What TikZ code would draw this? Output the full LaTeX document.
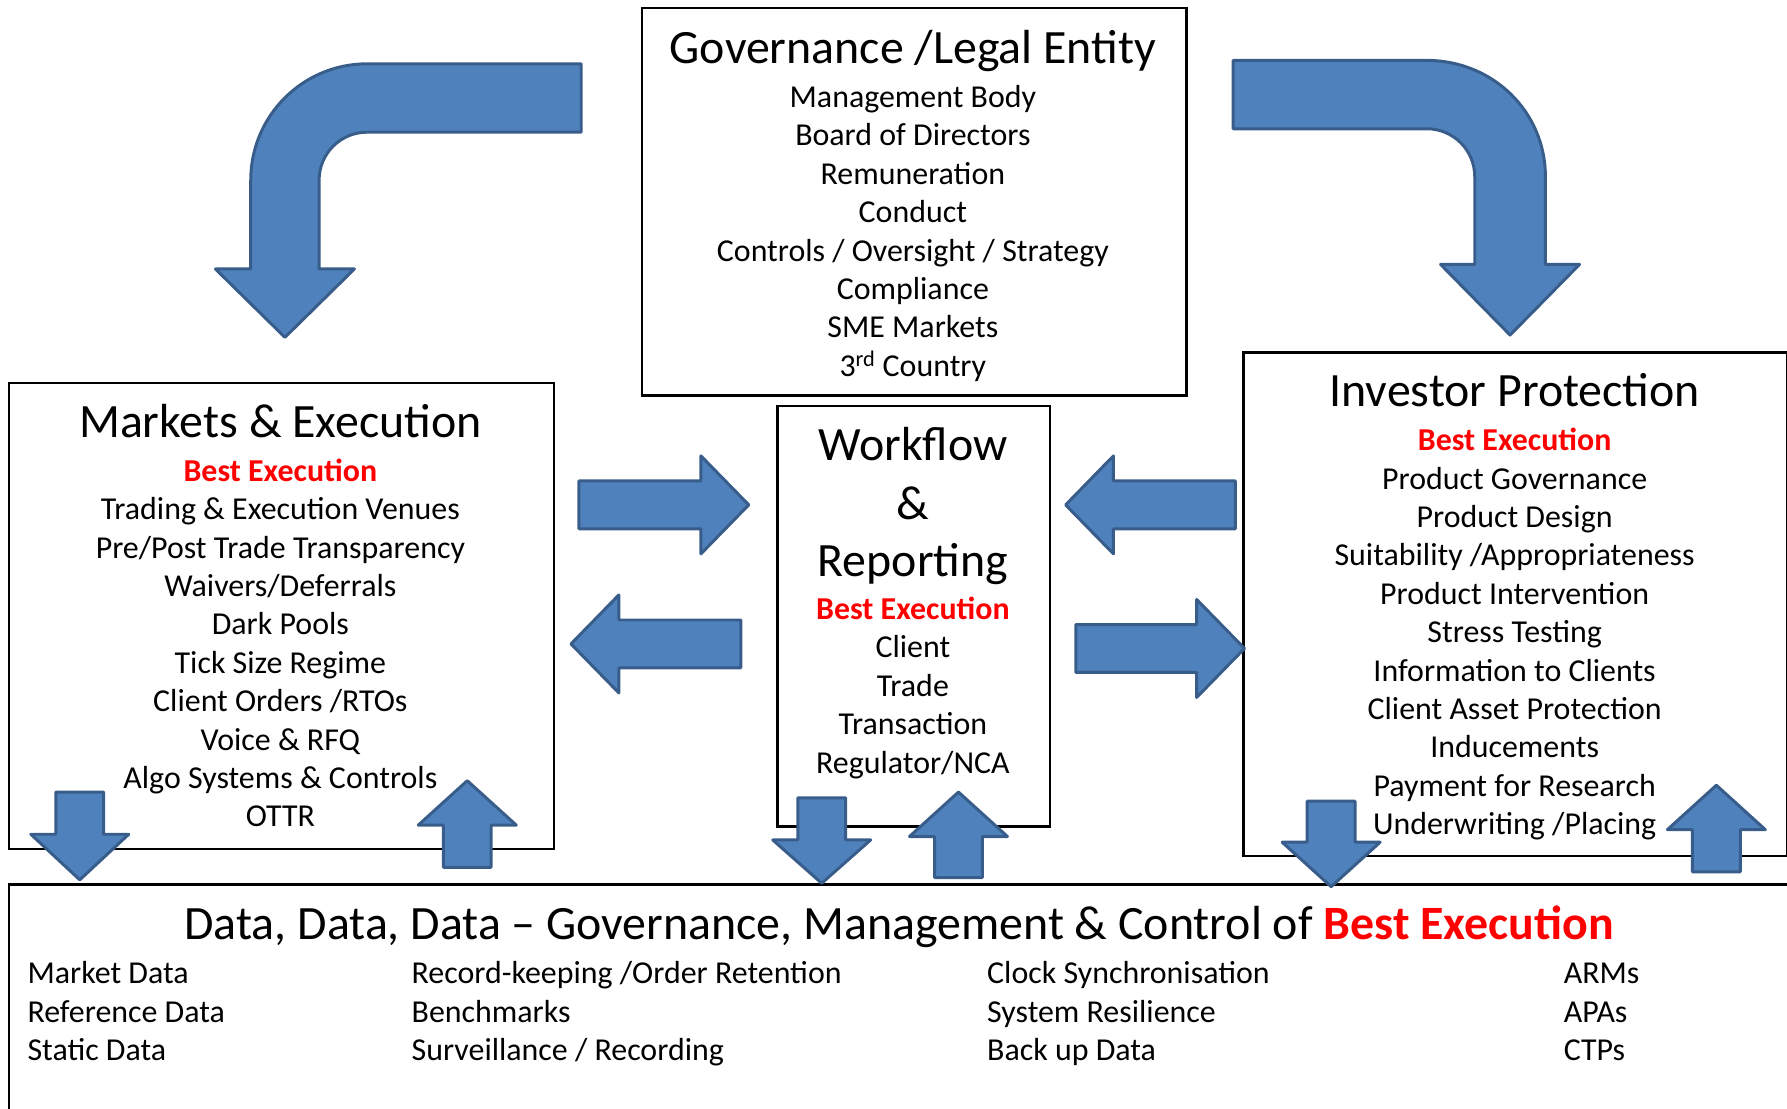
\documentclass[tikz,border=0pt]{standalone}
\usepackage{fontspec}
\setmainfont{Carlito}
\definecolor{arrowfill}{HTML}{4F81BD}
\definecolor{arrowline}{HTML}{385D8A}
\definecolor{bestred}{HTML}{FF0000}
\begin{document}
\begin{tikzpicture}[x=1pt,y=-1pt,
  panel/.style={draw=black,line width=2.2pt,fill=none,inner sep=0pt,anchor=north west},
  blockarrow/.style={fill=arrowfill,draw=arrowline,line width=2.6pt,line join=round},
  head/.style={font=\fontsize{42}{50.4}\selectfont,anchor=base,inner sep=0pt},
  body/.style={font=\fontsize{28}{33.6}\selectfont,anchor=base,inner sep=0pt},
  best/.style={font=\fontsize{28}{33.6}\selectfont\bfseries,text=bestred,anchor=base,inner sep=0pt},
  col/.style={font=\fontsize{28}{33.6}\selectfont,anchor=base west,inner sep=0pt},
]
\useasboundingbox (0,0) rectangle (1568,973);

% ---------- panels ----------
\node[panel,minimum width=478pt,minimum height=340pt] (gov) at (562,6) {};
\node[panel,minimum width=478pt,minimum height=409pt] (mkt) at (7,335) {};
\node[panel,minimum width=239pt,minimum height=369pt] (wf)  at (681,355) {};
\node[panel,minimum width=477pt,minimum height=442pt] (inv) at (1090,308) {};
\node[panel,minimum width=1565pt,minimum height=240pt] (data) at (7,775) {};

% ---------- Governance / Legal Entity ----------
\node[head] (govtitle) at (801,56) {Governance /Legal Entity};
\foreach \t [count=\i from 0] in {Management Body, Board of Directors, Remuneration,
    Conduct, Controls / Oversight / Strategy, Compliance, SME Markets,
    {3\textsuperscript{rd} Country}}
  \node[body] (gov\i) at (801,{94.3+33.7*\i}) {\t};

% ---------- Markets & Execution ----------
\node[head] (mkttitle) at (246,384) {Markets \& Execution};
\node[best] (mktbest) at (246,422.3) {Best Execution};
\foreach \t [count=\i from 1] in {Trading \& Execution Venues, Pre/Post Trade Transparency,
    Waivers/Deferrals, Dark Pools, Tick Size Regime, Client Orders /RTOs,
    Voice \& RFQ, Algo Systems \& Controls, OTTR}
  \node[body] (mkt\i) at (246,{422.3+33.7*\i}) {\t};

% ---------- Workflow & Reporting ----------
\node[head] (wft1) at (801,404.5) {Workflow};
\node[head] (wft2) at (801,455.5) {\&};
\node[head] (wft3) at (801,506) {Reporting};
\node[best] (wfbest) at (801,543.5) {Best Execution};
\foreach \t [count=\i from 1] in {Client, Trade, Transaction, Regulator/NCA}
  \node[body] (wf\i) at (801,{543.5+33.7*\i}) {\t};

% ---------- Investor Protection ----------
\node[head] (invtitle) at (1329,357) {Investor Protection};
\node[best] (invbest) at (1329,395.5) {Best Execution};
\foreach \t [count=\i from 1] in {Product Governance, Product Design,
    Suitability /Appropriateness, Product Intervention, Stress Testing,
    Information to Clients, Client Asset Protection, Inducements,
    Payment for Research, Underwriting /Placing}
  \node[body] (inv\i) at (1329,{395.5+33.7*\i}) {\t};

% ---------- Data ----------
\node[head] (datatitle) at (789,824.5)
  {Data, Data, Data -- Governance, Management \& Control of {\bfseries\color{bestred}Best Execution}};
\foreach \t [count=\i from 0] in {Market Data, Reference Data, Static Data}
  \node[col] (dA\i) at (24,{863.3+33.7*\i}) {\t};
\foreach \t [count=\i from 0] in {Record-keeping /Order Retention, Benchmarks, Surveillance / Recording}
  \node[col] (dB\i) at (361,{863.3+33.7*\i}) {\t};
\foreach \t [count=\i from 0] in {Clock Synchronisation, System Resilience, Back up Data}
  \node[col] (dC\i) at (866,{863.3+33.7*\i}) {\t};
\foreach \t [count=\i from 0] in {ARMs, APAs, CTPs}
  \node[col] (dD\i) at (1372,{863.3+33.7*\i}) {\t};

% ---------- bent arrows ----------
\draw[blockarrow] (510,56) -- (322,56)
  .. controls (265.7,56) and (220,101.7) .. (220,158)
  -- (220,236) -- (189,236) -- (250,296) -- (311,236) -- (280,236) -- (280,158)
  .. controls (280,134.8) and (298.8,116) .. (322,116)
  -- (510,116) -- cycle;
\draw[blockarrow] (1082,53) -- (1252,53)
  .. controls (1309.4,53) and (1356,97.6) .. (1356,155)
  -- (1356,232) -- (1386,232) -- (1325,294) -- (1264,232) -- (1294,232) -- (1294,155)
  .. controls (1294,131.8) and (1275.2,113) .. (1252,113)
  -- (1082,113) -- cycle;

% ---------- horizontal block arrows ----------
\draw[blockarrow] (508,422) -- (615,422) -- (615,400) -- (657,443) -- (615,486) -- (615,464) -- (508,464) -- cycle;
\draw[blockarrow] (650,544) -- (543,544) -- (543,522) -- (501,565) -- (543,608) -- (543,586) -- (650,586) -- cycle;
\draw[blockarrow] (1084,422) -- (977,422) -- (977,400) -- (935,443) -- (977,486) -- (977,464) -- (1084,464) -- cycle;
\draw[blockarrow] (944,548) -- (1050,548) -- (1050,526) -- (1092,569) -- (1050,612) -- (1050,590) -- (944,590) -- cycle;

% ---------- vertical block arrows ----------
\draw[blockarrow] (49,695) -- (91,695) -- (91,732) -- (113,732) -- (70,772) -- (27,732) -- (49,732) -- cycle;
\draw[blockarrow] (389,761) -- (431,761) -- (431,724) -- (453,724) -- (410,685) -- (367,724) -- (389,724) -- cycle;
\draw[blockarrow] (700,700) -- (742,700) -- (742,737) -- (764,737) -- (721,775) -- (678,737) -- (700,737) -- cycle;
\draw[blockarrow] (820,770) -- (862,770) -- (862,734) -- (884,734) -- (841,695) -- (798,734) -- (820,734) -- cycle;
\draw[blockarrow] (1147,703) -- (1189,703) -- (1189,739) -- (1211,739) -- (1168,778) -- (1125,739) -- (1147,739) -- cycle;
\draw[blockarrow] (1485,765) -- (1527,765) -- (1527,728) -- (1549,728) -- (1506,689) -- (1463,728) -- (1485,728) -- cycle;
\end{tikzpicture}
\end{document}
